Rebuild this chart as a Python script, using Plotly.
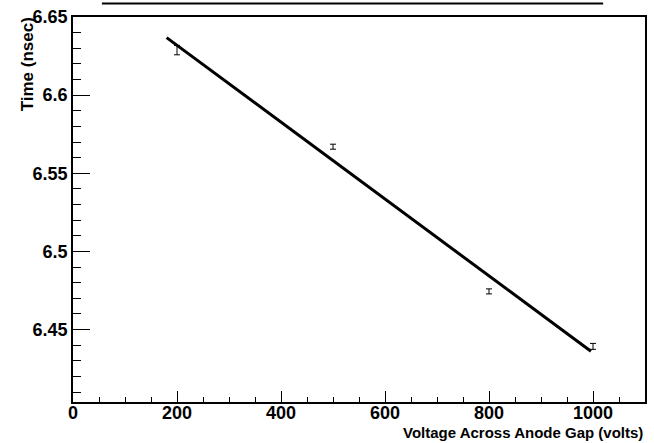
import numpy as np
import plotly.graph_objects as go

# Data
voltage = [200, 500, 800, 1000]
time_ns = [6.6288, 6.567, 6.4744, 6.4392]
time_err = [0.003, 0.0016, 0.0016, 0.0019]
fit_range = [180, 996]

coef = np.polyfit(voltage, time_ns, 1)
fit_x = np.array(fit_range)
fit_y = np.polyval(coef, fit_x)

font_family = "Liberation Sans, Arial, Helvetica, sans-serif"

fig = go.Figure()
fig.add_trace(go.Scatter(
    x=fit_x, y=fit_y, mode="lines",
    line=dict(color="black", width=3), showlegend=False, hoverinfo="skip"))
fig.add_trace(go.Scatter(
    x=voltage, y=time_ns, mode="markers",
    marker=dict(size=1, color="black", opacity=0),
    error_y=dict(type="data", array=time_err, color="black", thickness=1, width=3),
    showlegend=False))

axis_common = dict(
    showline=True, linecolor="black", linewidth=1.5, mirror=True,
    showgrid=False, zeroline=False, ticks="inside", tickcolor="black",
    tickfont=dict(family=font_family, size=18, color="black", weight="bold"),
)

fig.update_xaxes(
    range=[0, 1100], tickvals=[0, 200, 400, 600, 800, 1000],
    ticklen=11, tickwidth=1, ticklabelstandoff=-6,
    minor=dict(dtick=50, ticks="inside", ticklen=5, tickcolor="black", tickwidth=1, showgrid=False),
    **axis_common)
fig.update_yaxes(
    range=[6.4036, 6.65], tickvals=[6.45, 6.5, 6.55, 6.6, 6.65],
    ticktext=["6.45", "6.5", "6.55", "6.6", "6.65"],
    ticklen=17, tickwidth=1,
    minor=dict(dtick=0.01, tick0=6.4, ticks="inside", ticklen=8, tickcolor="black", tickwidth=1, showgrid=False),
    **axis_common)

fig.add_annotation(
    text="Voltage Across Anode Gap (volts)", xref="paper", yref="paper",
    x=1, y=-0.08, xanchor="right", yanchor="middle", showarrow=False,
    font=dict(family=font_family, size=15, color="black", weight="bold"))
fig.add_annotation(
    text="Time (nsec)", xref="paper", yref="paper", textangle=-90,
    x=-0.08, y=1.005, xanchor="center", yanchor="top", showarrow=False,
    font=dict(family=font_family, size=17, color="black", weight="bold"))

# Title box bottom edge (cut off at top of canvas)
fig.add_shape(type="line", xref="paper", yref="paper",
              x0=(102 - 73) / 574, x1=(605 - 73) / 574,
              y0=1 + 13.5 / 388, y1=1 + 13.5 / 388,
              line=dict(color="black", width=2))

fig.update_layout(
    width=654, height=443,
    margin=dict(l=73, r=7, t=14, b=41),
    paper_bgcolor="white", plot_bgcolor="white",
)

fig.write_html("out.html")
